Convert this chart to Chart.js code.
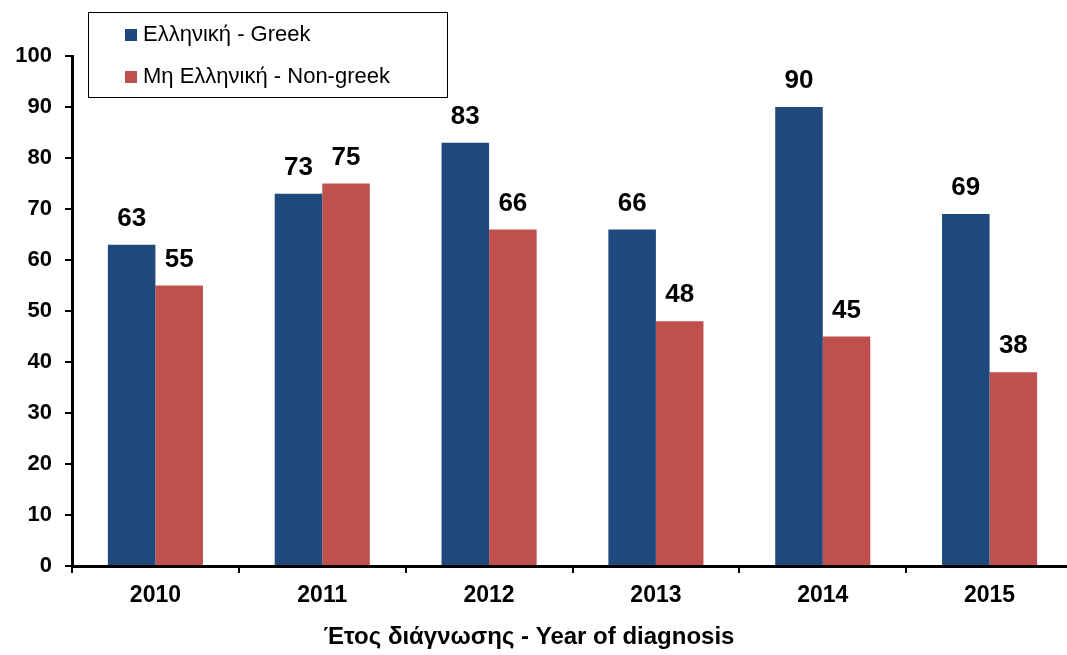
<!DOCTYPE html>
<html>
<head>
<meta charset="utf-8">
<script src="https://cdn.jsdelivr.net/npm/chart.js@4.4.1/dist/chart.umd.min.js"></script>
<style>
    html, body { margin: 0; padding: 0; background: #fff; overflow: hidden; }
    #wrap { position: relative; width: 1074px; height: 655px; }
</style>
</head>
<body>
<div id="wrap"><canvas id="diagChart" width="1074" height="655"></canvas></div>
<script>
// Data
const years = ['2010', '2011', '2012', '2013', '2014', '2015'];
const greek = [63, 73, 83, 66, 90, 69];
const nonGreek = [55, 75, 66, 48, 45, 38];
const yTicks = [0, 10, 20, 30, 40, 50, 60, 70, 80, 90, 100];
const seriesLabels = ['Ελληνική - Greek', 'Μη Ελληνική - Non-greek'];
const xTitle = 'Έτος διάγνωσης - Year of diagnosis';

const FONT = "Arial, 'Liberation Sans', sans-serif";

// Value labels above each bar
const valueLabels = {
    id: 'valueLabels',
    afterDatasetsDraw(chart) {
        const ctx = chart.ctx;
        ctx.save();
        ctx.font = 'bold 26px ' + FONT;
        ctx.fillStyle = '#000';
        ctx.textAlign = 'center';
        ctx.textBaseline = 'middle';
        chart.data.datasets.forEach((ds, i) => {
            chart.getDatasetMeta(i).data.forEach((bar, j) => {
                ctx.fillText(ds.data[j], bar.x, bar.y - 26);
            });
        });
        ctx.restore();
    }
};

// Boxed legend at top left + axis title
const boxLegend = {
    id: 'boxLegend',
    afterDraw(chart) {
        const ctx = chart.ctx;
        ctx.save();
        ctx.fillStyle = '#fff';
        ctx.fillRect(88, 12, 359, 85);
        ctx.strokeStyle = '#000';
        ctx.lineWidth = 1;
        ctx.strokeRect(88.5, 12.5, 359, 85);
        ctx.font = '22px ' + FONT;
        ctx.textBaseline = 'middle';
        ctx.textAlign = 'left';
        chart.data.datasets.forEach((ds, i) => {
            const y = 35 + i * 42;
            ctx.fillStyle = ds.backgroundColor;
            ctx.fillRect(125, y - 6, 12, 12);
            ctx.fillStyle = '#000';
            ctx.fillText(ds.label, 143, y);
        });
        ctx.font = 'bold 24px ' + FONT;
        ctx.textAlign = 'center';
        ctx.fillText(xTitle, 529, 637);
        ctx.restore();
    }
};

const ctx = document.getElementById('diagChart').getContext('2d');
const diagChart = new Chart(ctx, {
    type: 'bar',
    data: {
        labels: years,
        datasets: [{
            label: seriesLabels[0],
            data: greek,
            backgroundColor: '#1F497D'
        }, {
            label: seriesLabels[1],
            data: nonGreek,
            backgroundColor: '#C0504D'
        }]
    },
    options: {
        responsive: false,
        animation: false,
        layout: {
            padding: { top: 56, left: 0, right: 1, bottom: 0 }
        },
        datasets: {
            bar: {
                categoryPercentage: 0.57,
                barPercentage: 1
            }
        },
        plugins: {
            legend: { display: false },
            tooltip: { enabled: false }
        },
        scales: {
            x: {
                afterFit(scale) { scale.height = 89; },
                grid: {
                    drawOnChartArea: false,
                    drawTicks: true,
                    tickLength: 7,
                    color: '#000',
                    lineWidth: 2
                },
                border: { color: '#000', width: 3 },
                ticks: {
                    color: '#000',
                    padding: 9,
                    font: { family: FONT, size: 23, weight: 'bold' }
                }
            },
            y: {
                min: 0,
                max: 100,
                afterFit(scale) { scale.width = 72; },
                afterBuildTicks(scale) {
                    scale.ticks = yTicks.map(v => ({ value: v }));
                },
                grid: {
                    drawOnChartArea: false,
                    drawTicks: true,
                    tickLength: 7,
                    color: '#000',
                    lineWidth: 2
                },
                border: { color: '#000', width: 3 },
                ticks: {
                    color: '#000',
                    padding: 13,
                    font: { family: FONT, size: 22, weight: 'bold' }
                }
            }
        }
    },
    plugins: [valueLabels, boxLegend]
});
</script>
</body>
</html>
